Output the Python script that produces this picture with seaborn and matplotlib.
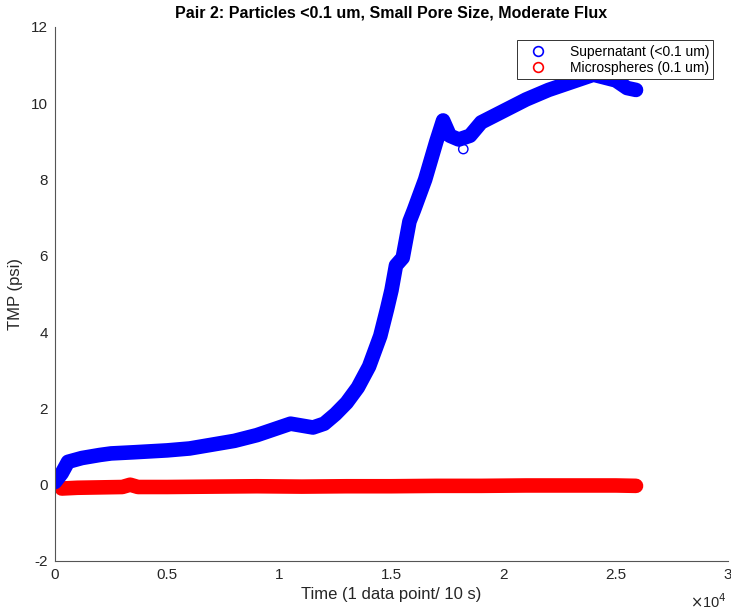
import matplotlib
matplotlib.use("Agg")
import matplotlib.pyplot as plt
from matplotlib.lines import Line2D
from matplotlib.ticker import FuncFormatter
import seaborn as sns
import pandas as pd

# ---- data ----
sup_x = [0, 300, 580, 1200, 2000, 2500, 3500, 5000, 6000, 7000, 8000, 9000, 9500, 10000,
         10500, 11000, 11500, 12000, 12500, 13000, 13500, 14000, 14500, 14800, 15000,
         15200, 15500, 15800, 16000, 16500, 17000, 17300, 17600, 18000, 18500, 19000,
         20000, 21000, 22000, 23000, 24000, 25000, 25500, 25900]
sup_y = [0.07, 0.3, 0.6, 0.7, 0.78, 0.82, 0.85, 0.9, 0.95, 1.05, 1.15, 1.3, 1.4, 1.5,
         1.6, 1.55, 1.5, 1.6, 1.85, 2.15, 2.55, 3.1, 3.9, 4.6, 5.1,
         5.75, 5.95, 6.9, 7.2, 8.0, 9.0, 9.55, 9.15, 9.05, 9.15, 9.5,
         9.8, 10.1, 10.35, 10.55, 10.75, 10.6, 10.4, 10.35]
sup_outlier_x = [18200]
sup_outlier_y = [8.8]

mic_x = [300, 1000, 2000, 3000, 3350, 3700, 5000, 7000, 9000, 11000, 13000, 15000,
         17000, 19000, 21000, 23000, 25000, 25900]
mic_y = [-0.1, -0.08, -0.07, -0.06, 0.0, -0.06, -0.06, -0.05, -0.04, -0.05, -0.04,
         -0.04, -0.03, -0.03, -0.02, -0.02, -0.02, -0.03]

x_ticks = [0, 5000, 10000, 15000, 20000, 25000, 30000]
y_ticks = [-2, 0, 2, 4, 6, 8, 10, 12]

title = "Pair 2: Particles <0.1 um, Small Pore Size, Moderate Flux"
xlabel = "Time (1 data point/ 10 s)"
ylabel = "TMP (psi)"
labels = ["Supernatant (<0.1 um)", "Microspheres (0.1 um)"]

# ---- plotting ----
sns.set_style("white")
plt.rcParams["font.family"] = ["Liberation Sans", "DejaVu Sans"]

fig = plt.figure(figsize=(7.31, 6.12), dpi=100)
ax = fig.add_axes([55 / 731, 51 / 612, 673 / 731, 534 / 612])

blue = "#0000ff"
red = "#ff0000"
band = 10.5

sup = pd.DataFrame({"x": sup_x, "y": sup_y})
mic = pd.DataFrame({"x": mic_x, "y": mic_y})

sns.lineplot(data=mic, x="x", y="y", ax=ax, color=red, linewidth=band,
             solid_capstyle="round", solid_joinstyle="round", estimator=None, sort=False)
sns.lineplot(data=sup, x="x", y="y", ax=ax, color=blue, linewidth=band,
             solid_capstyle="round", solid_joinstyle="round", estimator=None, sort=False)
sns.scatterplot(x=sup_outlier_x, y=sup_outlier_y, ax=ax, marker="o", s=45,
                facecolors="none", edgecolor=blue, linewidth=1)

ax.set_xlim(0, 30000)
ax.set_ylim(-2, 12)
ax.set_xticks(x_ticks)
ax.set_yticks(y_ticks)
ax.xaxis.set_major_formatter(FuncFormatter(lambda v, p: f"{v/1e4:g}"))
ax.yaxis.set_major_formatter(FuncFormatter(lambda v, p: f"{v:g}"))

gray = "#262626"
ax.tick_params(direction="in", length=5, width=0.6, colors=gray, labelsize=11,
               labelcolor=gray, top=False, right=False, pad=5)
for s in ["top", "right"]:
    ax.spines[s].set_visible(False)
for s in ["left", "bottom"]:
    ax.spines[s].set_color("#555555")
    ax.spines[s].set_linewidth(0.8)

ax.set_title(title, fontsize=11.5, fontweight="bold", color="black", pad=7)
ax.set_xlabel(xlabel, fontsize=12, color=gray, labelpad=4)
ax.set_ylabel(ylabel, fontsize=12, color=gray, labelpad=6)
ax.text(0.998, -0.058, r"$\times$10$^{4}$", transform=ax.transAxes, ha="right",
        va="top", fontsize=10.5, color=gray)

handles = [Line2D([], [], linestyle="none", marker="o", markersize=7,
                  markerfacecolor="none", markeredgecolor=blue, markeredgewidth=1.2),
           Line2D([], [], linestyle="none", marker="o", markersize=7,
                  markerfacecolor="none", markeredgecolor=red, markeredgewidth=1.2)]
leg = ax.legend(handles, labels, loc="upper right", bbox_to_anchor=(0.978, 0.975),
                fontsize=10, frameon=True, fancybox=False, framealpha=1,
                edgecolor="#333333", borderpad=0.3, labelspacing=0.2,
                handletextpad=1.0, handlelength=2.5, borderaxespad=0)
leg.get_frame().set_linewidth(0.7)
for t in leg.get_texts():
    t.set_color("black")

fig.savefig("out.png", dpi=100)
